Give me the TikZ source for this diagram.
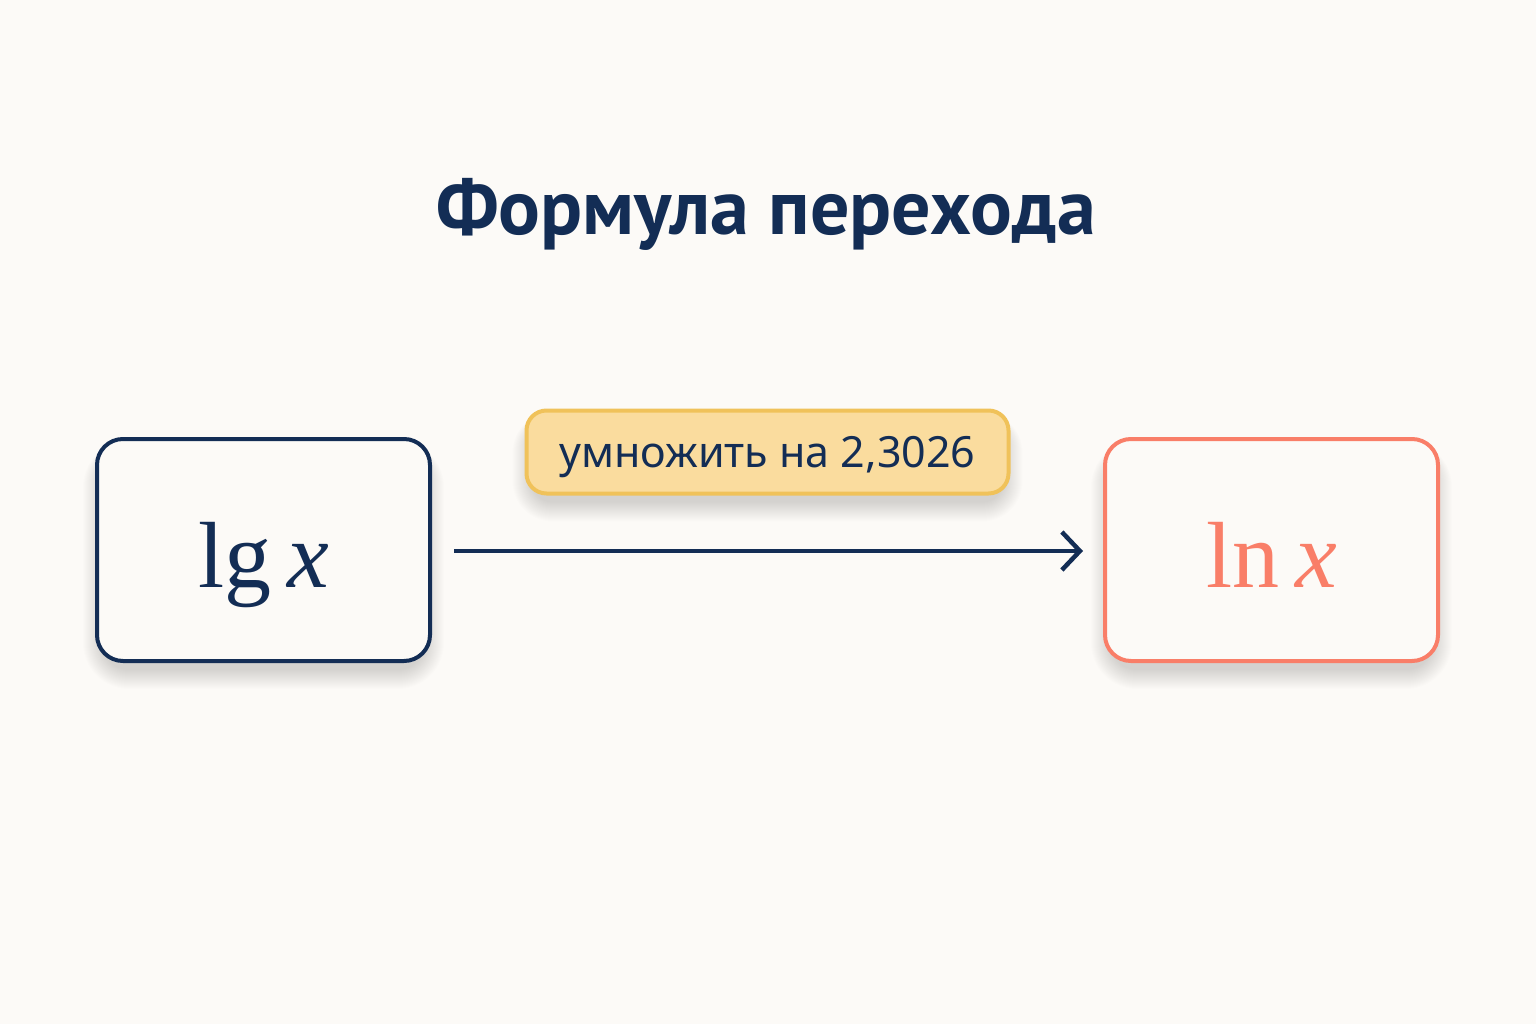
\documentclass[tikz,border=0pt]{standalone}
\usepackage{fontspec}
\setsansfont{Noto Sans}
\newfontfamily\titlefont{PT Sans}
\newfontfamily\serifm{Liberation Serif}
\usetikzlibrary{arrows.meta}
\definecolor{bgc}{HTML}{FCFAF7}
\definecolor{navy}{HTML}{132D55}
\definecolor{coral}{HTML}{F97E68}
\definecolor{goldfill}{HTML}{FADC9E}
\definecolor{golddraw}{HTML}{F0C25A}
\pgfdeclarelayer{bg}
\pgfdeclarelayer{shadowlayer}
\pgfsetlayers{bg,shadowlayer,main}
\tikzset{
  mathbox/.style={rounded corners=26pt, line width=4pt, minimum width=333pt, minimum height=222pt, fill=bgc,
    font=\serifm\fontsize{94}{100}\selectfont, text depth=0pt},
  labelbox/.style={rounded corners=20pt, line width=4pt, draw=golddraw, fill=goldfill, minimum width=482pt, minimum height=83pt,
    text=navy, font=\sffamily\fontsize{43}{48}\selectfont, text depth=0pt},
  conn/.style={draw=navy, line width=4.5pt, -{Straight Barb[length=18pt,width=38pt,line width=4.5pt]}},
  shadowlayerstyle/.style={fill=black, fill opacity=0.006}
}
\newcommand{\softshadow}[2]{%
  \begin{pgfonlayer}{shadowlayer}
  \foreach \i in {1,...,20}{
    \fill[shadowlayerstyle, rounded corners={#2+\i}] ([shift={(-\i+8,-\i+14+\i*0.5)}]#1.north west) rectangle ([shift={(\i-8,\i+6)}]#1.south east);
  }
  \end{pgfonlayer}}
\begin{document}
\begin{tikzpicture}[x=1pt,y=-1pt]
\begin{pgfonlayer}{bg}
\fill[bgc] (0,0) rectangle (1536,1024);
\end{pgfonlayer}
\useasboundingbox (0,0) rectangle (1536,1024);
\node[text=navy, font=\titlefont\bfseries\fontsize{78}{90}\selectfont, anchor=base] (title) at (766,235) {Формула перехода};
\node[mathbox, draw=navy, text=navy] (lg) at (263.5,550) {\raisebox{-10pt}{lg\,\textit{x}}};
\node[mathbox, draw=coral, text=coral] (ln) at (1271.5,550) {\raisebox{-10pt}{ln\,\textit{x}}};
\node[labelbox] (lab) at (767.5,452) {умножить на 2,3026};
\softshadow{lg}{26}
\softshadow{ln}{26}
\softshadow{lab}{20}
\draw[conn] ([xshift=22pt,yshift=-1pt]lg.east) -- ([xshift=-20pt,yshift=-1pt]ln.west);
\end{tikzpicture}
\end{document}
